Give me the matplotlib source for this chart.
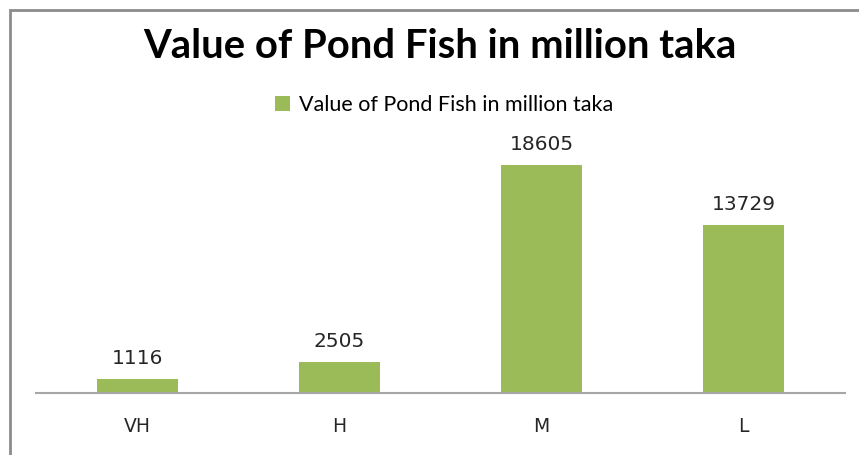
import matplotlib
matplotlib.use("Agg")
import matplotlib.pyplot as plt
from matplotlib.patches import Rectangle

categories = ["VH", "H", "M", "L"]
values = [1116, 2505, 18605, 13729]
series_name = "Value of Pond Fish in million taka"

green = "#9BBB59"

fig = plt.figure(figsize=(8.59, 4.55), dpi=100)
ax = fig.add_axes([36/859, 62/455, 809/859, 263/455])

x = range(len(categories))
bars = ax.bar(x, values, width=0.4, color=green, label=series_name, zorder=2)
for xi, v in zip(x, values):
    ax.text(xi, v + 900, str(v), ha="center", va="bottom",
            fontsize=14.5, color="#262626", family="DejaVu Sans")

ax.set_xlim(-0.5, 3.5)
ax.set_ylim(0, 21450)
ax.set_yticks([])
ax.set_xticks(list(x))
ax.set_xticklabels(categories, fontsize=13.5, color="#262626", family="DejaVu Sans")
ax.tick_params(axis="x", length=0, pad=17)
for s in ["top", "right", "left"]:
    ax.spines[s].set_visible(False)
ax.spines["bottom"].set_color("#a6a6a6")
ax.spines["bottom"].set_linewidth(1.5)

fig.text(440, 455 - 47, "Value of Pond Fish in million taka", transform=None,
         ha="center", va="center", fontsize=28.8, fontweight="bold",
         family="Lato", color="black")

leg = fig.legend(handles=[bars], labels=[series_name], loc="center",
                 bbox_to_anchor=(444/859, 1 - 105/455), frameon=False,
                 prop={"family": "Lato", "size": 15.5}, handlelength=0.7,
                 handleheight=0.7, handletextpad=0.4)

# outer border of the chart
fig.patches.append(Rectangle((10/859, -0.1), 1.2, 1.1 - 10/455, transform=fig.transFigure,
                             fill=False, edgecolor="#8c8c8c", linewidth=2))

fig.savefig("out.png", dpi=100)
